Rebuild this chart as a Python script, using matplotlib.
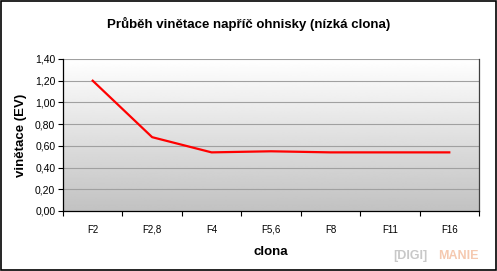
import numpy as np
import matplotlib.pyplot as plt
from matplotlib.patches import Rectangle

# data
clona = ["F2", "F2,8", "F4", "F5,6", "F8", "F11", "F16"]
vinetace = [1.20, 0.68, 0.54, 0.55, 0.54, 0.54, 0.54]
y_ticks = [0.0, 0.2, 0.4, 0.6, 0.8, 1.0, 1.2, 1.4]

plt.rcParams['font.family'] = ['Liberation Sans', 'DejaVu Sans']

fig = plt.figure(figsize=(4.97, 2.71), dpi=100)
W, H = 497, 271
ax = fig.add_axes([63 / W, 1 - 211 / H, (479 - 63) / W, (211 - 59) / H])

x = np.arange(len(clona))
ax.set_xlim(-0.5, len(clona) - 0.5)
ax.set_ylim(0, 1.4)

# gradient background of the plot area, white on top, grey at the bottom
grad = np.linspace(1.0, 0.76, 256).reshape(-1, 1)
ax.imshow(grad, cmap='gray', vmin=0, vmax=1, aspect='auto',
          extent=[-0.5, len(clona) - 0.5, 0, 1.4], origin='upper', zorder=0)

for yv in y_ticks[1:]:
    ax.axhline(yv, color='#a0a0a0', lw=0.8, zorder=1)

ax.plot(x, vinetace, color='#ff0000', lw=1.6, zorder=3)

ax.set_yticks(y_ticks)
ax.set_yticklabels([f"{v:.2f}".replace('.', ',') for v in y_ticks], fontsize=7.5)
ax.set_xticks(x)
ax.set_xticklabels(clona, fontsize=7)
ax.tick_params(axis='x', length=0, pad=10)
ax.set_xticks(np.arange(-0.5, len(clona)), minor=True)
ax.tick_params(axis='x', which='minor', length=3.5, direction='out', width=0.8)
ax.tick_params(axis='y', length=3.5, direction='out', width=0.8, pad=2)

for s in ['left', 'bottom']:
    ax.spines[s].set_color('black')
    ax.spines[s].set_linewidth(0.9)
ax.spines['top'].set_visible(False)
ax.spines['right'].set_color('#404040')
ax.spines['right'].set_linewidth(0.9)

ax.set_ylabel("vinětace (EV)", fontsize=9.5, fontweight='bold', labelpad=6)
ax.set_xlabel("clona", fontsize=9.5, fontweight='bold', labelpad=8)

fig.text(0.5, 1 - 24 / H, "Průběh vinětace napříč ohnisky (nízká clona)",
         ha='center', va='center', fontsize=9.5, fontweight='bold')

# watermark
fig.text(410 / W, 1 - 256 / H, "[DIGI]", ha='center', va='center',
         fontsize=9, fontweight='bold', color='#c8c8c8')
fig.text(458 / W, 1 - 256 / H, "MANIE", ha='center', va='center',
         fontsize=9, fontweight='bold', color='#f5c9b0')

# outer border
fig.patches.append(Rectangle((0.002, 0.003), 0.995, 0.993, transform=fig.transFigure,
                             fill=False, edgecolor='black', lw=1.2))

fig.savefig("out.png", dpi=100)
